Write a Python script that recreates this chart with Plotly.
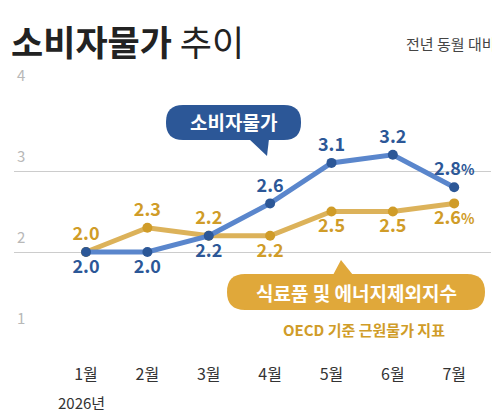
import plotly.graph_objects as go

months = ["1월", "2월", "3월", "4월", "5월", "6월", "7월"]
cpi = [2.0, 2.0, 2.2, 2.6, 3.1, 3.2, 2.8]
core = [2.0, 2.3, 2.2, 2.2, 2.5, 2.5, 2.6]
cpi_pos = ["bottom center"]*3 + ["top center"]*4
core_pos = ["top center"]*3 + ["bottom center"]*4

def lab(vals, last):
    out = [f"<b>{v:.1f}</b>" for v in vals]
    out[last] = out[last] + "<b><span style='font-size:14px'>%</span></b>"
    return out

x = list(range(len(months)))
BLUE_L, BLUE_D = "#5a86cc", "#2c5797"
OR_L, OR_D = "#dcb25a", "#d09c28"
FONT = "Noto Sans CJK KR"
fig = go.Figure()
fig.add_trace(go.Scatter(x=x, y=core, mode="lines+markers+text", line=dict(color=OR_L, width=5),
    marker=dict(color=OR_D, size=10), text=lab(core, 6), textposition=core_pos,
    textfont=dict(color=OR_D, size=18, family=FONT), cliponaxis=False))
fig.add_trace(go.Scatter(x=x, y=cpi, mode="lines+markers+text", line=dict(color=BLUE_L, width=5),
    marker=dict(color=BLUE_D, size=10), text=lab(cpi, 6), textposition=cpi_pos,
    textfont=dict(color=BLUE_D, size=18, family=FONT), cliponaxis=False))

DX, DY = -7, -8
L, R, T, B = 13 + DX, 490 + DX, 90 + DY, 333 + DY
def px(xp, yp):
    xp += DX; yp += DY
    return (xp - L) / (R - L), (B - yp) / (B - T)

def rbox(x0, y0, x1, y1, r, tip):
    def P(a, b):
        u, v = px(a, b); return f"{u:.4f},{v:.4f}"
    d = (f"M{P(x0+r,y0)} L{P(x1-r,y0)} Q{P(x1,y0)} {P(x1,y0+r)} L{P(x1,y1-r)} Q{P(x1,y1)} {P(x1-r,y1)} "
         f"L{P(x0+r,y1)} Q{P(x0,y1)} {P(x0,y1-r)} L{P(x0,y0+r)} Q{P(x0,y0)} {P(x0+r,y0)} Z")
    t = f"M{P(*tip[0])} L{P(*tip[1])} L{P(*tip[2])} Z"
    return d, t

shapes = []
d, t = rbox(165, 105, 300, 140, 17, [(248, 139), (268, 139), (266, 156)])
for p in (d, t):
    shapes.append(dict(type="path", path=p, xref="paper", yref="paper", fillcolor=BLUE_D, line=dict(width=0), layer="above"))
d, t = rbox(226, 274, 484, 310, 18, [(332, 275), (352, 275), (340, 260)])
for p in (d, t):
    shapes.append(dict(type="path", path=p, xref="paper", yref="paper", fillcolor="#e0a83a", line=dict(width=0), layer="above"))
u0, v0 = px(250, 320); u1, v1 = px(478, 340)
shapes.append(dict(type="rect", xref="paper", yref="paper", x0=u0, y0=v1, x1=u1, y1=v0, fillcolor="white", line=dict(width=0), layer="above"))

ann = []
def A(text, xp_, yp_, size, color, xanchor="center", yanchor="middle"):
    u, v = px(xp_, yp_)
    ann.append(dict(text=text, x=u, y=v, xref="paper", yref="paper", showarrow=False, xanchor=xanchor,
                    yanchor=yanchor, font=dict(size=size, color=color, family=FONT)))
A("<b>소비자물가</b>", 232, 122, 19, "white")
A("<b>식료품 및 에너지제외지수</b>", 355, 292, 19, "white")
A("<b>OECD 기준 근원물가 지표</b>", 363, 329, 15, OR_D)
for val, yy in [(4, 90), (3, 171), (2, 252), (1, 333)]:
    A(str(val), 14, yy - 3, 15, "#b8b8b8", "left", "bottom")
A("<b>소비자물가</b> 추이", 8, 40, 35, "#222222", "left")
A("전년 동월 대비", 497, 44, 15, "#444444", "right")
A("2026년", 80, 402, 15, "#333333")

fig.update_layout(width=500, height=420, margin=dict(l=L, r=500-R, t=T, b=420-B),
    plot_bgcolor="white", paper_bgcolor="white", showlegend=False,
    shapes=shapes, annotations=ann,
    xaxis=dict(range=[-1.174, 6.6], tickvals=x, ticktext=months, showgrid=False, zeroline=False,
               tickfont=dict(size=16, color="#333333", family=FONT), ticklen=0, ticks="", showline=False,
               ticklabelstandoff=30),
    yaxis=dict(range=[1, 4], tickvals=[1, 2, 3, 4], showticklabels=False, gridcolor="#cccccc", gridwidth=1.2,
               zeroline=False, showline=False))
fig.write_html("out.html")
